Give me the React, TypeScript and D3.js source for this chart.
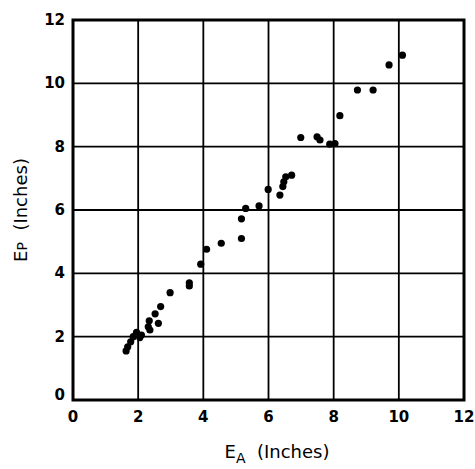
import React from 'react';
import * as d3 from 'd3';

// E_A vs E_P (inches)
const eaValues = [
  1.63, 1.68, 1.77, 1.85, 1.95, 2.05, 2.1, 2.31, 2.36, 2.34, 2.62, 2.52, 2.69,
  2.98, 3.57, 3.57, 3.92, 4.1, 4.55, 5.17, 5.17, 5.3, 5.71, 5.99, 6.35, 6.44,
  6.47, 6.53, 6.71, 6.99, 7.49, 7.58, 7.88, 8.04, 8.19, 8.73, 9.21, 9.7, 10.11,
];
const epValues = [
  1.55, 1.68, 1.84, 2.0, 2.14, 1.97, 2.05, 2.31, 2.21, 2.5, 2.42, 2.72, 2.95,
  3.39, 3.7, 3.6, 4.29, 4.76, 4.95, 5.1, 5.72, 6.05, 6.13, 6.65, 6.47, 6.74,
  6.89, 7.05, 7.1, 8.29, 8.31, 8.21, 8.08, 8.1, 8.98, 9.79, 9.79, 10.58, 10.89,
];
const tickValues = [0, 2, 4, 6, 8, 10, 12];

const width = 475;
const height = 469;
const margin = { top: 20, right: 11, bottom: 69, left: 73 };

const font = '"DejaVu Sans", "Liberation Sans", sans-serif';

export default function App() {
  const x = d3.scaleLinear().domain([0, 12]).range([margin.left, width - margin.right]);
  const y = d3.scaleLinear().domain([0, 12]).range([height - margin.bottom, margin.top]);

  const points = eaValues.map((v, i) => [v, epValues[i]]);

  return (
    <svg
      width={width}
      height={height}
      style={{ position: 'absolute', left: 0, top: 0, background: '#fff' }}
    >
      {/* grid */}
      {tickValues.slice(1, -1).map((t) => (
        <g key={t}>
          <line x1={x(t)} x2={x(t)} y1={y(0)} y2={y(12)} stroke="#000" strokeWidth={1.8} />
          <line x1={x(0)} x2={x(12)} y1={y(t)} y2={y(t)} stroke="#000" strokeWidth={1.8} />
        </g>
      ))}
      {/* frame */}
      <rect
        x={x(0)}
        y={y(12)}
        width={x(12) - x(0)}
        height={y(0) - y(12)}
        fill="none"
        stroke="#000"
        strokeWidth={3}
      />
      {/* ticks */}
      {tickValues.map((t) => (
        <text
          key={'x' + t}
          x={x(t)}
          y={y(0) + 22}
          textAnchor="middle"
          fontFamily={font}
          fontSize={15}
          fontWeight="bold"
        >
          {t}
        </text>
      ))}
      {tickValues.map((t) => (
        <text
          key={'y' + t}
          x={x(0) - 8}
          y={y(t) + (t === 0 ? 0 : 5)}
          textAnchor="end"
          fontFamily={font}
          fontSize={15}
          fontWeight="bold"
        >
          {t}
        </text>
      ))}
      {/* points */}
      {points.map(([a, p], i) => (
        <circle key={i} cx={x(a)} cy={y(p)} r={3.6} fill="#000" />
      ))}
      {/* axis titles */}
      <text x={277} y={458} textAnchor="middle" fontFamily={font} fontSize={18}>
        E<tspan fontSize={14} dy={5}>A</tspan>
        <tspan dy={-5}>{'\u00a0 (Inches)'}</tspan>
      </text>
      <text
        transform={`translate(27, ${y(6)}) rotate(-90)`}
        textAnchor="middle"
        fontFamily={font}
        fontSize={18}
      >
        E<tspan fontSize={14}>P</tspan>
        <tspan>{'\u00a0 (Inches)'}</tspan>
      </text>
    </svg>
  );
}
